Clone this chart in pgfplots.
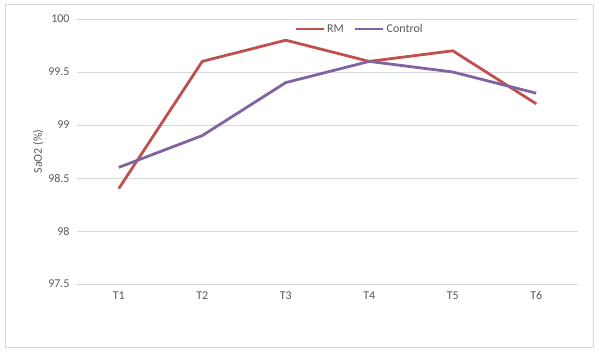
\documentclass[border=0pt]{standalone}
\usepackage{pgfplots}
\pgfplotsset{compat=1.18}
\usepackage{fontspec}
\setmainfont{Carlito}
\definecolor{txt}{HTML}{595959}
\definecolor{gridc}{HTML}{D9D9D9}
\definecolor{rm}{HTML}{C0504D}
\definecolor{ctrl}{HTML}{8064A2}
\pgfplotsset{mylegend/.style={legend image code/.code={\draw[##1, line width=2.8pt] (0bp,0bp) -- (28bp,0bp);}}}
\begin{document}
\begin{tikzpicture}
\path (-77bp,-68bp) rectangle (523bp,284bp);
\draw[gridc, line width=0.75pt] (-72bp,-63bp) rectangle (516bp,280bp);
\begin{axis}[
  at={(0,0)}, anchor=south west,
  scale only axis, width=501bp, height=265bp,
  xmin=-0.5, xmax=5.5, ymin=97.5, ymax=100,
  xtick={0,1,2,3,4,5}, xticklabels={T1,T2,T3,T4,T5,T6},
  ytick={97.5,98,98.5,99,99.5,100},
  yticklabels={97.5,98,98.5,99,99.5,100},
  axis line style={draw=none},
  major tick length=0pt,
  xmajorgrids=false, ymajorgrids=true, grid style={draw=gridc, line width=0.75pt},
  tick label style={font=\fontsize{12}{14}\selectfont, text=txt},
  yticklabel style={xshift=-4bp},
  xticklabel style={yshift=-4bp},
  ylabel={SaO2 (\%)}, ylabel style={font=\fontsize{12}{14}\selectfont, text=txt, yshift=-2bp},
  legend columns=2,
  legend style={at={(0.5,1)}, anchor=north, xshift=32bp, yshift=-1bp, draw=none, fill=none,
    font=\fontsize{12}{14}\selectfont, text=txt,
    /tikz/every even column/.append style={column sep=8bp}},
  clip=false,
]
\addplot[rm, line width=2.8pt, mylegend]
  coordinates {(0,98.4) (1,99.6) (2,99.8) (3,99.6) (4,99.7) (5,99.2)};
\addlegendentry{RM}
\addplot[ctrl, line width=2.8pt, mylegend]
  coordinates {(0,98.6) (1,98.9) (2,99.4) (3,99.6) (4,99.5) (5,99.3)};
\addlegendentry{Control}
\end{axis}
\end{tikzpicture}
\end{document}
